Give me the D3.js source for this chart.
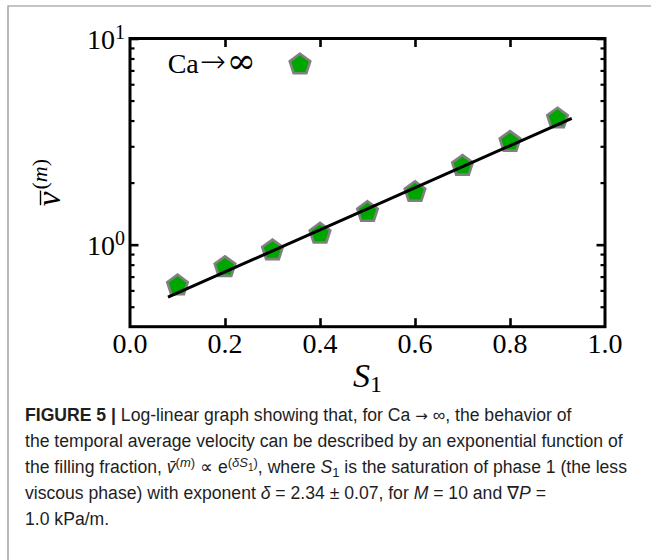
<!DOCTYPE html>
<html>
<head>
<meta charset="utf-8">
<script src="https://cdn.jsdelivr.net/npm/d3@7"></script>
<style>
  html, body { margin: 0; padding: 0; background: #fff; }
  svg { display: block; }
</style>
</head>
<body>
<svg id="fig" width="651" height="560"></svg>
<script>
// Temporal average velocity vs. saturation of phase 1 (Ca -> infinity)
const saturation = [0.1, 0.2, 0.3, 0.4, 0.5, 0.6, 0.7, 0.8, 0.9];
const velocity   = [0.634, 0.778, 0.938, 1.13, 1.44, 1.80, 2.41, 3.15, 4.09];

// Exponential fit (straight line on log-linear axes), end points
const fitSaturation = [0.08, 0.93];
const fitVelocity   = [0.556, 4.10];

// Axis ticks
const xTickValues = [0.0, 0.2, 0.4, 0.6, 0.8, 1.0];
const xTickLabels = ["0.0", "0.2", "0.4", "0.6", "0.8", "1.0"];
const yMajorTicks = [1, 10];
const yMajorExponents = ["0", "1"];
const yMinorTicks = [0.5, 0.6, 0.7, 0.8, 0.9, 2, 3, 4, 5, 6, 7, 8, 9];

// Legend label pieces: "Ca", arrow, infinity
const legendParts = ["Ca", "\u2192", "\u221E"];

// Caption: each line is a list of [text, style] runs
// style flags: b = bold, i = italic, sup = superscript, sub = subscript, subsup = subscript inside superscript
const captionLines = [
  [["FIGURE 5", "b"], [" | ", "b"], ["Log-linear graph showing that, for Ca ", ""], ["\u2192", "arrow"], [" \u221E, the behavior of", ""]],
  [["the temporal average velocity can be described by an exponential function of", ""]],
  [["the filling fraction, ", ""], ["v\u0304", "i"], ["(", "sup"], ["m", "sup i"], [")", "sup"],
   [" \u221D e", ""], ["(", "sup"], ["\u03B4S", "sup i"], ["1", "subsup"], [")", "sup"],
   [", where ", ""], ["S", "i"], ["1", "sub"], [" is the saturation of phase 1 (the less", ""]],
  [["viscous phase) with exponent ", ""], ["\u03B4", "i"], [" = 2.34 \u00B1 0.07, for ", ""],
   ["M", "i"], [" = 10 and \u2207", ""], ["P", "i"], [" =", ""]],
  [["1.0 kPa/m.", ""]]
];

const svg = d3.select("#fig");
const serif = "'Liberation Serif', 'Times New Roman', serif";
const mathSerif = "'DejaVu Serif', 'Liberation Serif', serif";
const sans = "'Liberation Sans', Arial, Helvetica, sans-serif";

// Panel border (top and left edges)
svg.append("path")
  .attr("d", "M8,560 V6 H651")
  .attr("fill", "none")
  .attr("stroke", "#8a8a8a")
  .attr("stroke-width", 1.2);

const plot = { left: 130, right: 605, top: 38.5, bottom: 326.7 };

const x = d3.scaleLinear().domain([0, 1]).range([plot.left, plot.right]);
const y = d3.scaleLog().domain([0.4, 10]).range([plot.bottom, plot.top]);

// Pentagon marker as a d3 symbol type
const pentagon = {
  draw(context, size) {
    const r = Math.sqrt(size / 2.3776);
    for (let k = 0; k < 5; k++) {
      const a = -Math.PI / 2 + k * 2 * Math.PI / 5;
      const px = r * Math.cos(a), py = r * Math.sin(a);
      if (k === 0) context.moveTo(px, py); else context.lineTo(px, py);
    }
    context.closePath();
  }
};
const markerPath = d3.symbol().type(pentagon).size(2.3776 * 10.8 * 10.8)();

// Ticks (inward) with d3 axes
function styleTicks(g, w) {
  g.select(".domain").remove();
  g.selectAll(".tick line").attr("stroke", "#000").attr("stroke-width", w);
  g.selectAll(".tick text").remove();
}
const inner = xTickValues.filter(v => v > 0 && v < 1);
svg.append("g").attr("transform", `translate(0,${plot.bottom})`)
  .call(d3.axisBottom(x).tickValues(inner).tickSize(-8.5).tickFormat(""))
  .call(g => styleTicks(g, 2.6));
svg.append("g").attr("transform", `translate(0,${plot.top})`)
  .call(d3.axisTop(x).tickValues(inner).tickSize(-8.5).tickFormat(""))
  .call(g => styleTicks(g, 2.6));
svg.append("g").attr("transform", `translate(${plot.left},0)`)
  .call(d3.axisLeft(y).tickValues(yMajorTicks).tickSize(-8.5).tickFormat(""))
  .call(g => styleTicks(g, 2.6));
svg.append("g").attr("transform", `translate(${plot.right},0)`)
  .call(d3.axisRight(y).tickValues(yMajorTicks).tickSize(-8.5).tickFormat(""))
  .call(g => styleTicks(g, 2.6));
svg.append("g").attr("transform", `translate(${plot.left},0)`)
  .call(d3.axisLeft(y).tickValues(yMinorTicks).tickSize(-4.5).tickFormat(""))
  .call(g => styleTicks(g, 2.2));
svg.append("g").attr("transform", `translate(${plot.right},0)`)
  .call(d3.axisRight(y).tickValues(yMinorTicks).tickSize(-4.5).tickFormat(""))
  .call(g => styleTicks(g, 2.2));

// Axes frame
svg.append("rect")
  .attr("x", x(0)).attr("y", y(10))
  .attr("width", x(1) - x(0)).attr("height", y(0.4) - y(10))
  .attr("fill", "none").attr("stroke", "#000").attr("stroke-width", 3);

// X tick labels
svg.append("g").selectAll("text").data(xTickValues).join("text")
  .attr("x", d => x(d)).attr("y", plot.bottom + 26.5)
  .attr("text-anchor", "middle")
  .attr("font-family", serif).attr("font-size", 28)
  .text((d, i) => xTickLabels[i]);

// Y tick labels 10^n
const ylab = svg.append("g").selectAll("text").data(yMajorTicks).join("text")
  .attr("x", plot.left - 5).attr("y", d => y(d) + 10)
  .attr("text-anchor", "end")
  .attr("font-family", serif).attr("font-size", 28);
ylab.append("tspan").text("10");
ylab.append("tspan").attr("font-size", 20).attr("dy", -10).text((d, i) => yMajorExponents[i]);

// Fit line
const line = d3.line().x(d => x(d[0])).y(d => y(d[1]));

// Data markers
svg.append("g").selectAll("path").data(saturation.map((s, i) => [s, velocity[i]])).join("path")
  .attr("d", markerPath)
  .attr("transform", d => `translate(${x(d[0])},${y(d[1])})`)
  .attr("fill", "#00a600").attr("stroke", "#808080").attr("stroke-width", 2.6)
  .attr("stroke-linejoin", "miter");

svg.append("path")
  .datum(fitSaturation.map((s, i) => [s, fitVelocity[i]]))
  .attr("d", line)
  .attr("fill", "none").attr("stroke", "#000").attr("stroke-width", 3);

// Legend
const leg = svg.append("text")
  .attr("x", plot.left + 37.7).attr("y", plot.top + 34.5)
  .attr("font-family", serif).attr("font-size", 28);
leg.append("tspan").text(legendParts[0]);
leg.append("tspan").attr("font-family", "'DejaVu Sans', sans-serif").attr("font-size", 31)
  .attr("font-weight", 300).attr("dx", 1).attr("dy", -1).text(legendParts[1]);
leg.append("tspan").attr("font-family", mathSerif).attr("font-size", 35)
  .attr("dx", 1).attr("dy", 1).text(legendParts[2]);
svg.append("path")
  .attr("d", markerPath)
  .attr("transform", `translate(${plot.left + 170},${plot.top + 26})`)
  .attr("fill", "#00a600").attr("stroke", "#808080").attr("stroke-width", 2.6);

// X axis label S_1
const xl = svg.append("text")
  .attr("x", (plot.left + plot.right) / 2).attr("y", plot.bottom + 60)
  .attr("text-anchor", "middle")
  .attr("font-family", serif).attr("font-size", 34);
xl.append("tspan").attr("font-style", "italic").text("S");
xl.append("tspan").attr("font-size", 24).attr("dy", 5).text("1");

// Y axis label: overlined v with superscript (m)
const yl = svg.append("g").attr("transform", `translate(60,${(plot.top + plot.bottom) / 2}) rotate(-90)`);
const vText = yl.append("text")
  .attr("font-family", serif).attr("font-size", 33).attr("font-style", "italic")
  .text("v");
const supText = yl.append("text")
  .attr("font-family", serif).attr("font-size", 22);
supText.append("tspan").text("(");
supText.append("tspan").attr("font-style", "italic").text("m");
supText.append("tspan").text(")");
const vW = vText.node().getComputedTextLength();
const sW = supText.node().getComputedTextLength();
const total = vW + 2 + sW;
vText.attr("x", -total / 2).attr("y", 0);
supText.attr("x", -total / 2 + vW + 2).attr("y", -13);
yl.append("line")
  .attr("x1", -total / 2 + 1).attr("x2", -total / 2 + vW + 1)
  .attr("y1", -19.5).attr("y2", -19.5)
  .attr("stroke", "#000").attr("stroke-width", 1.4);

// Caption
const cap = svg.append("g").attr("font-family", sans).attr("font-size", 17.6).attr("fill", "#1e1e1e");
const shiftOf = s => s.includes("subsup") ? -2.5 : s.includes("sup") ? -6.5 : s.includes("sub") ? 4 : 0;
captionLines.forEach((runs, li) => {
  const t = cap.append("text").attr("x", 25).attr("y", 421 + li * 26);
  let cur = 0;
  runs.forEach(([txt, st]) => {
    const sh = shiftOf(st);
    const ts = t.append("tspan").attr("dy", sh - cur).text(txt);
    cur = sh;
    const flags = st.split(" ");
    if (flags.includes("b")) ts.attr("font-weight", "bold");
    if (flags.includes("i")) ts.attr("font-style", "italic");
    if (flags.includes("arrow")) ts.attr("font-family", "'DejaVu Sans', sans-serif").attr("font-size", 15);
    if (flags.includes("subsup")) ts.attr("font-size", 10);
    else if (flags.includes("sup") || flags.includes("sub")) ts.attr("font-size", 13);
  });
});
</script>
</body>
</html>
